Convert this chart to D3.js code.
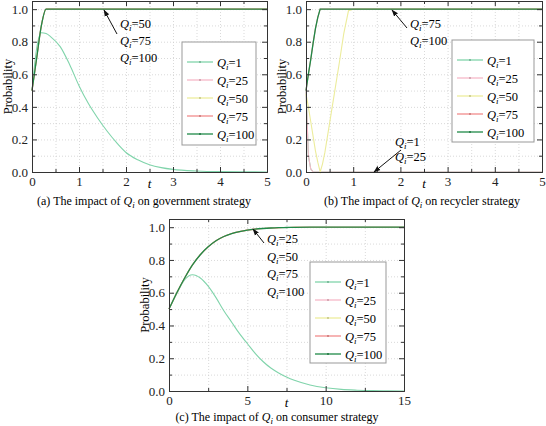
<!DOCTYPE html>
<html>
<head>
<meta charset="utf-8">
<script src="https://cdn.jsdelivr.net/npm/d3@7"></script>
<style>
  body { margin: 0; background: #fff; }
  svg text { font-family: "Liberation Serif", "Times New Roman", Times, serif; }
</style>
</head>
<body>
<svg id="chart" width="546" height="426"></svg>
<script>
// series names and colours (same order in every panel)
const qLabels = ['1', '25', '50', '75', '100']
const colors = ['#80d4ab', '#f6b8c8', '#ecec9c', '#f28c8c', '#1f8a48']
const yTicks = [0, 0.2, 0.4, 0.6, 0.8, 1.0]
const yMinor = [0.1, 0.3, 0.5, 0.7, 0.9]

// (a) government strategy
const tGov = [0, 0.1, 0.2, 0.3, 0.4, 0.6, 0.8, 1.0, 1.2, 1.4, 1.6, 1.8, 2.0, 2.25, 2.5, 2.75, 3, 3.5, 4, 4.5, 5]
const govQ1 = [0.5, 0.76, 0.855, 0.85, 0.83, 0.77, 0.66, 0.53, 0.42, 0.33, 0.25, 0.18, 0.12, 0.075, 0.045, 0.027, 0.016, 0.006, 0.002, 0.001, 0]
const govHigh = [0.5, 0.7, 0.9, 1, 1, 1, 1, 1, 1, 1, 1, 1, 1, 1, 1, 1, 1, 1, 1, 1, 1]
const govTicks = [0, 1, 2, 3, 4, 5]
const govMinor = [0.5, 1.5, 2.5, 3.5, 4.5]

// (b) recycler strategy
const tRec = [0, 0.05, 0.1, 0.15, 0.2, 0.25, 0.3, 0.35, 0.4, 0.5, 0.6, 0.7, 0.8, 0.9, 1, 1.5, 2, 2.5, 3, 3.5, 4, 4.5, 5]
const recLow = [0.5, 0.1, 0.02, 0, 0, 0, 0, 0, 0, 0, 0, 0, 0, 0, 0, 0, 0, 0, 0, 0, 0, 0, 0]
const recQ50 = [0.48, 0.4, 0.31, 0.22, 0.13, 0.06, 0, 0.05, 0.12, 0.3, 0.48, 0.66, 0.85, 0.99, 1, 1, 1, 1, 1, 1, 1, 1, 1]
const recHigh = [0.5, 0.6, 0.69, 0.79, 0.88, 0.95, 1, 1, 1, 1, 1, 1, 1, 1, 1, 1, 1, 1, 1, 1, 1, 1, 1]

// (c) consumer strategy
const tCon = [0, 0.5, 1, 1.5, 2, 2.5, 3, 3.5, 4, 4.5, 5, 5.5, 6, 6.5, 7, 7.5, 8, 9, 10, 11, 12, 13, 14, 15]
const conQ1 = [0.5, 0.595, 0.68, 0.71, 0.69, 0.64, 0.57, 0.49, 0.42, 0.35, 0.29, 0.23, 0.18, 0.14, 0.11, 0.085, 0.065, 0.037, 0.02, 0.01, 0.005, 0.002, 0.001, 0]
const conHigh = [0.5, 0.6, 0.69, 0.77, 0.832, 0.88, 0.917, 0.943, 0.961, 0.973, 0.982, 0.988, 0.992, 0.995, 0.997, 0.998, 0.999, 1, 1, 1, 1, 1, 1, 1]
const conTicks = [0, 5, 10, 15]
const conMinor = [2.5, 7.5, 12.5]

const svg = d3.select('#chart')

svg.append('defs').append('marker')
  .attr('id', 'arrow')
  .attr('viewBox', '0 0 10 10')
  .attr('refX', 9).attr('refY', 5)
  .attr('markerWidth', 7).attr('markerHeight', 7)
  .attr('orient', 'auto')
  .append('path')
  .attr('d', 'M0,1.5L10,5L0,8.5Z')
  .attr('fill', '#111')

/**
 * Appends "Q_i=value" as tspans to a text selection.
 *
 * @param {*} sel The text selection
 * @param {string} value The text after the subscript
 */
function qText (sel, value) {
  sel.append('tspan').attr('font-style', 'italic').text('Q')
  sel.append('tspan').attr('font-style', 'italic').attr('font-size', 9).attr('dy', 3).text('i')
  sel.append('tspan').attr('dy', -3).text(value)
}

/**
 * Draws one panel: grid, frame, axes, curves, legend, notes and caption.
 *
 * @param {object} p The panel settings
 */
function drawPanel (p) {
  const g = svg.append('g')
  const x = d3.scaleLinear().domain([0, p.xMax]).range([p.left, p.right])
  const y = d3.scaleLinear().domain([0, 1.05]).range([p.bottom, p.top])
  const h = p.bottom - p.top
  const w = p.right - p.left

  // dotted grid on major and minor ticks
  g.append('g')
    .attr('transform', 'translate(0,' + p.bottom + ')')
    .call(d3.axisBottom(x).tickValues(p.xTicks.concat(p.xMinor)).tickSize(-h).tickFormat(''))
  g.append('g')
    .attr('transform', 'translate(' + p.left + ',0)')
    .call(d3.axisLeft(y).tickValues(yTicks.concat(yMinor)).tickSize(-w).tickFormat(''))
  g.selectAll('.domain').remove()
  g.selectAll('.tick line')
    .attr('stroke', '#cfcfcf')
    .attr('stroke-width', 0.8)
    .attr('stroke-dasharray', '1,2')

  // curves
  const line = d3.line()
    .x(d => x(d[0]))
    .y(d => y(d[1]))
    .curve(p.curve)
  p.series.forEach((s, i) => {
    const pts = p.t.map((t, k) => [t, s[k]])
    g.append('path')
      .attr('d', line(pts))
      .attr('fill', 'none')
      .attr('stroke', colors[i])
      .attr('stroke-width', i === 4 ? 1.3 : 1.1)
  })

  // frame with inward ticks on all sides
  const axes = g.append('g').attr('class', 'frame')
  axes.append('g').attr('transform', 'translate(0,' + p.bottom + ')')
    .call(d3.axisBottom(x).tickValues(p.xTicks).tickSizeInner(-5).tickSizeOuter(0).tickPadding(5).tickFormat(d3.format('d')))
  axes.append('g').attr('transform', 'translate(0,' + p.bottom + ')')
    .call(d3.axisBottom(x).tickValues(p.xMinor).tickSizeInner(-3).tickSizeOuter(0).tickFormat(''))
  axes.append('g').attr('transform', 'translate(0,' + p.top + ')')
    .call(d3.axisTop(x).tickValues(p.xTicks).tickSizeInner(-5).tickSizeOuter(0).tickFormat(''))
  axes.append('g').attr('transform', 'translate(0,' + p.top + ')')
    .call(d3.axisTop(x).tickValues(p.xMinor).tickSizeInner(-3).tickSizeOuter(0).tickFormat(''))
  axes.append('g').attr('transform', 'translate(' + p.left + ',0)')
    .call(d3.axisLeft(y).tickValues(yTicks).tickSizeInner(-5).tickSizeOuter(0).tickPadding(4).tickFormat(d3.format('.1f')))
  axes.append('g').attr('transform', 'translate(' + p.left + ',0)')
    .call(d3.axisLeft(y).tickValues(yMinor).tickSizeInner(-3).tickSizeOuter(0).tickFormat(''))
  axes.append('g').attr('transform', 'translate(' + p.right + ',0)')
    .call(d3.axisRight(y).tickValues(yTicks).tickSizeInner(-5).tickSizeOuter(0).tickFormat(''))
  axes.append('g').attr('transform', 'translate(' + p.right + ',0)')
    .call(d3.axisRight(y).tickValues(yMinor).tickSizeInner(-3).tickSizeOuter(0).tickFormat(''))
  axes.selectAll('.domain').attr('stroke', '#333').attr('stroke-width', 1)
  axes.selectAll('.tick line').attr('stroke', '#333')
  axes.selectAll('.tick text')
    .attr('font-size', 13)
    .attr('fill', '#222')
  axes.selectAll('g').attr('font-family', null)

  // axis titles
  g.append('text')
    .attr('x', (p.left + p.right) / 2).attr('y', p.bottom + 16)
    .attr('text-anchor', 'middle')
    .attr('font-size', 13).attr('font-style', 'italic')
    .text('t')
  g.append('text')
    .attr('transform', 'translate(' + (p.left - 20) + ',' + ((p.top + p.bottom) / 2) + ') rotate(-90)')
    .attr('text-anchor', 'middle')
    .attr('font-size', 12.5)
    .text('Probability')

  // legend
  const lg = g.append('g')
  lg.append('rect')
    .attr('x', p.legend.x).attr('y', p.legend.y)
    .attr('width', p.legend.w).attr('height', p.legend.h)
    .attr('fill', '#fff').attr('stroke', '#999').attr('stroke-width', 1)
  qLabels.forEach((q, i) => {
    const ly = p.legend.y + 20 + i * 18
    lg.append('line')
      .attr('x1', p.legend.x + 5).attr('x2', p.legend.x + 31)
      .attr('y1', ly).attr('y2', ly)
      .attr('stroke', colors[i]).attr('stroke-width', 1.3)
    lg.append('circle')
      .attr('cx', p.legend.x + 18).attr('cy', ly).attr('r', 0.9)
      .attr('fill', d3.color(colors[i]).darker(0.6))
    lg.append('text')
      .attr('x', p.legend.x + 35).attr('y', ly + 4.5)
      .attr('font-size', 12.5)
      .call(qText, '=' + q)
  })

  // notes with arrows
  p.notes.forEach(n => {
    g.append('line')
      .attr('x1', n.from[0]).attr('y1', n.from[1])
      .attr('x2', n.to[0]).attr('y2', n.to[1])
      .attr('stroke', '#111').attr('stroke-width', 1)
      .attr('marker-end', 'url(#arrow)')
    n.labels.forEach((lab, k) => {
      g.append('text')
        .attr('x', n.x).attr('y', n.y + k * n.step)
        .attr('font-size', 12.5)
        .call(qText, '=' + lab)
    })
  })

  // caption
  const cap = g.append('text')
    .attr('x', p.captionX).attr('y', p.captionY)
    .attr('text-anchor', 'middle')
    .attr('font-size', 12)
  cap.append('tspan').text(p.caption[0] + ' ')
  qText(cap, ' ' + p.caption[1])
}

drawPanel({
  left: 32, right: 267, top: 1, bottom: 172, xMax: 5,
  xTicks: govTicks, xMinor: govMinor,
  t: tGov, series: [govQ1, govHigh, govHigh, govHigh, govHigh],
  curve: d3.curveMonotoneX,
  legend: { x: 182, y: 42, w: 74, h: 103 },
  notes: [{ from: [117, 34], to: [104, 10], x: 120, y: 28, step: 17, labels: ['50', '75', '100'] }],
  caption: ['(a) The impact of', 'on government strategy'],
  captionX: 144, captionY: 205
})

drawPanel({
  left: 306, right: 542, top: 1, bottom: 172, xMax: 5,
  xTicks: govTicks, xMinor: govMinor,
  t: tRec, series: [recLow, recLow, recQ50, recHigh, recHigh],
  curve: d3.curveLinear,
  legend: { x: 452, y: 40, w: 82, h: 102 },
  notes: [
    { from: [407, 28], to: [392, 10], x: 410, y: 28, step: 17, labels: ['75', '100'] },
    { from: [401, 150], to: [374, 172], x: 395, y: 146, step: 15, labels: ['1', '25'] }
  ],
  caption: ['(b) The impact of', 'on recycler strategy'],
  captionX: 422, captionY: 205
})

drawPanel({
  left: 169, right: 404, top: 219, bottom: 391, xMax: 15,
  xTicks: conTicks, xMinor: conMinor,
  t: tCon, series: [conQ1, conHigh, conHigh, conHigh, conHigh],
  curve: d3.curveMonotoneX,
  legend: { x: 310, y: 262, w: 76, h: 101 },
  notes: [{ from: [264, 243], to: [253, 229], x: 267, y: 243, step: 17.5, labels: ['25', '50', '75', '100'] }],
  caption: ['(c) The impact of', 'on consumer strategy'],
  captionX: 277, captionY: 421
})
</script>
</body>
</html>
